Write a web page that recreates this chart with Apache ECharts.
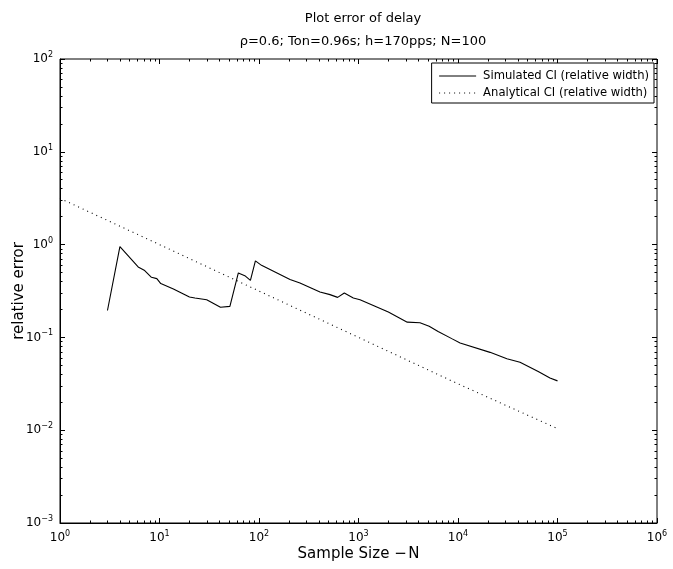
<!DOCTYPE html>
<html><head><meta charset="utf-8">
<script src="https://cdn.jsdelivr.net/npm/echarts@6/dist/echarts.min.js"></script>
<style>html,body{margin:0;padding:0;background:#fff}#c{width:673px;height:569px}</style>
</head><body><div id="c"></div>
<script>
const titleText = 'Plot error of delay';
const subtitleText = 'ρ=0.6; Ton=0.96s; h=170pps; N=100';
const xName = 'Sample Size \u2212\u200aN';
const yName = 'relative error';
const seriesNames = ['Simulated CI (relative width)', 'Analytical CI (relative width)'];

// Simulated CI: [N, relative width]
const simulated = [
  [3, 0.195], [4, 0.95], [6.1, 0.575], [7.1, 0.525], [8.3, 0.444], [9.4, 0.43],
  [10.3, 0.38], [13.8, 0.333], [20, 0.273], [22.7, 0.266], [29.8, 0.255],
  [41, 0.211], [51, 0.216], [62, 0.495], [72, 0.463], [82, 0.412], [92, 0.667],
  [106, 0.598], [205, 0.42], [258, 0.386], [410, 0.309], [517, 0.289], [617, 0.27],
  [720, 0.301], [887, 0.266], [1036, 0.255], [1995, 0.188], [3090, 0.146],
  [4150, 0.144], [5130, 0.132], [6310, 0.116], [8650, 0.097], [10500, 0.087],
  [21000, 0.069], [31000, 0.059], [42000, 0.054], [64000, 0.043], [84000, 0.0366],
  [100000, 0.034]
];
// Analytical CI: [N, relative width]
const analytical = [
  [1, 3.15], [10, 1.0], [100, 0.316], [1000, 0.1], [10000, 0.0316], [100000, 0.0104]
];

const xMajor = [1, 10, 100, 1000, 10000, 100000, 1000000];
const yMajor = [0.001, 0.01, 0.1, 1, 10, 100];
function minors(lo, hi) {
  const out = [];
  for (let d = lo; d < hi; d *= 10) for (let k = 2; k <= 9; k++) out.push(+(d * k).toPrecision(3));
  return out;
}
const xMinor = minors(1, 1000000);
const yMinor = minors(0.001, 100);

function fmt(v) {
  const e = Math.round(Math.log10(v));
  return '10{sup|' + (e < 0 ? '\u2212' + (-e) : e) + '}';
}
const rich = {sup: {fontSize: 8, verticalAlign: 'top', padding: [0, 0, 8, 0], fontFamily: 'DejaVu Sans', color: '#000'}};
const font = 'DejaVu Sans';

function mkAxis(kind, pos, ticks, len, labels, extra) {
  const isX = kind === 'x';
  return Object.assign({
    type: 'log', logBase: 10,
    min: isX ? 1 : 0.001, max: isX ? 1000000 : 100,
    position: pos,
    axisLine: {show: labels, lineStyle: {color: '#000', width: 1}},
    axisTick: {show: true, inside: true, length: len, customValues: ticks, lineStyle: {color: '#000', width: 1}},
    axisLabel: labels ? {show: true, customValues: ticks, formatter: fmt, rich: rich, color: '#000', fontSize: 12, fontFamily: font, margin: 7} : {show: false},
    splitLine: {show: false},
    minorTick: {show: false}
  }, extra || {});
}

const chart = echarts.init(document.getElementById('c'), null, {renderer: 'canvas'});
chart.setOption({
  animation: false,
  backgroundColor: '#fff',
  title: [
    {text: titleText, left: 358, top: 7, textAlign: 'center', textStyle: {fontFamily: font, fontSize: 13, fontWeight: 'normal', color: '#000'}},
    {text: subtitleText, left: 358, top: 30, textAlign: 'center', textStyle: {fontFamily: font, fontSize: 13, fontWeight: 'normal', color: '#000'}}
  ],
  grid: {left: 60, right: 16, top: 59, bottom: 46, outerBoundsMode: 'none', containLabel: false, show: true, borderColor: '#000', borderWidth: 1, backgroundColor: 'transparent'},
  legend: {
    orient: 'vertical', right: 19, top: 63,
    backgroundColor: '#fff', borderColor: '#000', borderWidth: 1, borderRadius: 0,
    padding: [7, 5, 4, 7], itemGap: 5, itemWidth: 37, itemHeight: 12,
    itemStyle: {opacity: 0},
    lineStyle: {width: 1},
    textStyle: {fontFamily: font, fontSize: 11.6, color: '#000', padding: [0, 0, 0, 2]},
    data: seriesNames
  },
  xAxis: [
    mkAxis('x', 'bottom', xMajor, 5, true, {name: xName, nameLocation: 'middle', nameGap: 24, nameMoveOverlap: false, nameTextStyle: {fontFamily: font, fontSize: 15, color: '#000'}}),
    mkAxis('x', 'bottom', xMinor, 2.5, false),
    mkAxis('x', 'top', xMajor, 5, false),
    mkAxis('x', 'top', xMinor, 2.5, false)
  ],
  yAxis: [
    mkAxis('y', 'left', yMajor, 5, true, {name: yName, nameLocation: 'middle', nameGap: 33, nameMoveOverlap: false, nameTextStyle: {fontFamily: font, fontSize: 15, color: '#000'}}),
    mkAxis('y', 'left', yMinor, 2.5, false),
    mkAxis('y', 'right', yMajor, 5, false),
    mkAxis('y', 'right', yMinor, 2.5, false)
  ],
  series: [
    {name: seriesNames[0], type: 'line', data: simulated, showSymbol: false, symbol: 'none', lineStyle: {color: '#000', width: 1.1, type: 'solid'}, itemStyle: {color: '#000'}},
    {name: seriesNames[1], type: 'line', data: analytical, showSymbol: false, symbol: 'none', lineStyle: {color: '#000', width: 1.1, type: [1, 4]}, itemStyle: {color: '#000'}}
  ]
});
</script></body></html>
